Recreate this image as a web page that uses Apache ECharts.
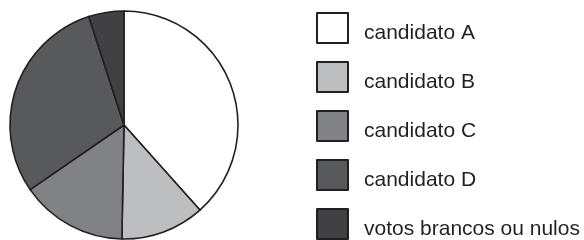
<!DOCTYPE html>
<html>
<head>
<meta charset="utf-8">
<script src="https://cdn.jsdelivr.net/npm/echarts@6/dist/echarts.min.js"></script>
<style>
  html, body { margin: 0; padding: 0; background: #fff; }
</style>
</head>
<body>
<div id="chart" style="width:584px;height:240px"></div>
<script>
// categorias e percentuais
const categories = ['candidato A', 'candidato B', 'candidato C', 'candidato D', 'votos brancos ou nulos'];
const values = [38.4, 11.9, 15.1, 29.6, 5.0];
const colors = ['#ffffff', '#bcbec0', '#808285', '#58595b', '#414042'];

const myChart = echarts.init(document.getElementById('chart'));

const option = {
  animation: false,
  legend: {
    orient: 'vertical',
    left: 316,
    top: 12,
    height: 400,
    padding: 0,
    itemWidth: 31,
    itemHeight: 30,
    itemGap: 17,
    icon: 'rect',
    selectedMode: false,
    itemStyle: {
      borderColor: '#231f20',
      borderWidth: 2,
    },
    // texto um pouco abaixo do centro do quadrado, como no original
    formatter: (name) => '{a|' + name + '}{b| }',
    textStyle: {
      fontFamily: 'Liberation Sans, Arial, sans-serif',
      fontSize: 21,
      color: '#231f20',
      padding: [0, 0, 0, 11],
      rich: {
        a: {
          fontFamily: 'Liberation Sans, Arial, sans-serif',
          fontSize: 21,
          color: '#231f20',
          lineHeight: 22,
          verticalAlign: 'bottom',
        },
        b: {
          height: 32,
          width: 1,
        },
      },
    },
    data: categories,
  },
  series: [
    {
      type: 'pie',
      center: [124, 125],
      radius: [0, 114],
      startAngle: 90,
      clockwise: true,
      label: { show: false },
      labelLine: { show: false },
      emphasis: { disabled: true },
      itemStyle: {
        borderColor: '#231f20',
        borderWidth: 1.6,
      },
      data: categories.map((name, i) => ({
        name: name,
        value: values[i],
        itemStyle: { color: colors[i] },
      })),
    },
  ],
};

myChart.setOption(option);
</script>
</body>
</html>
